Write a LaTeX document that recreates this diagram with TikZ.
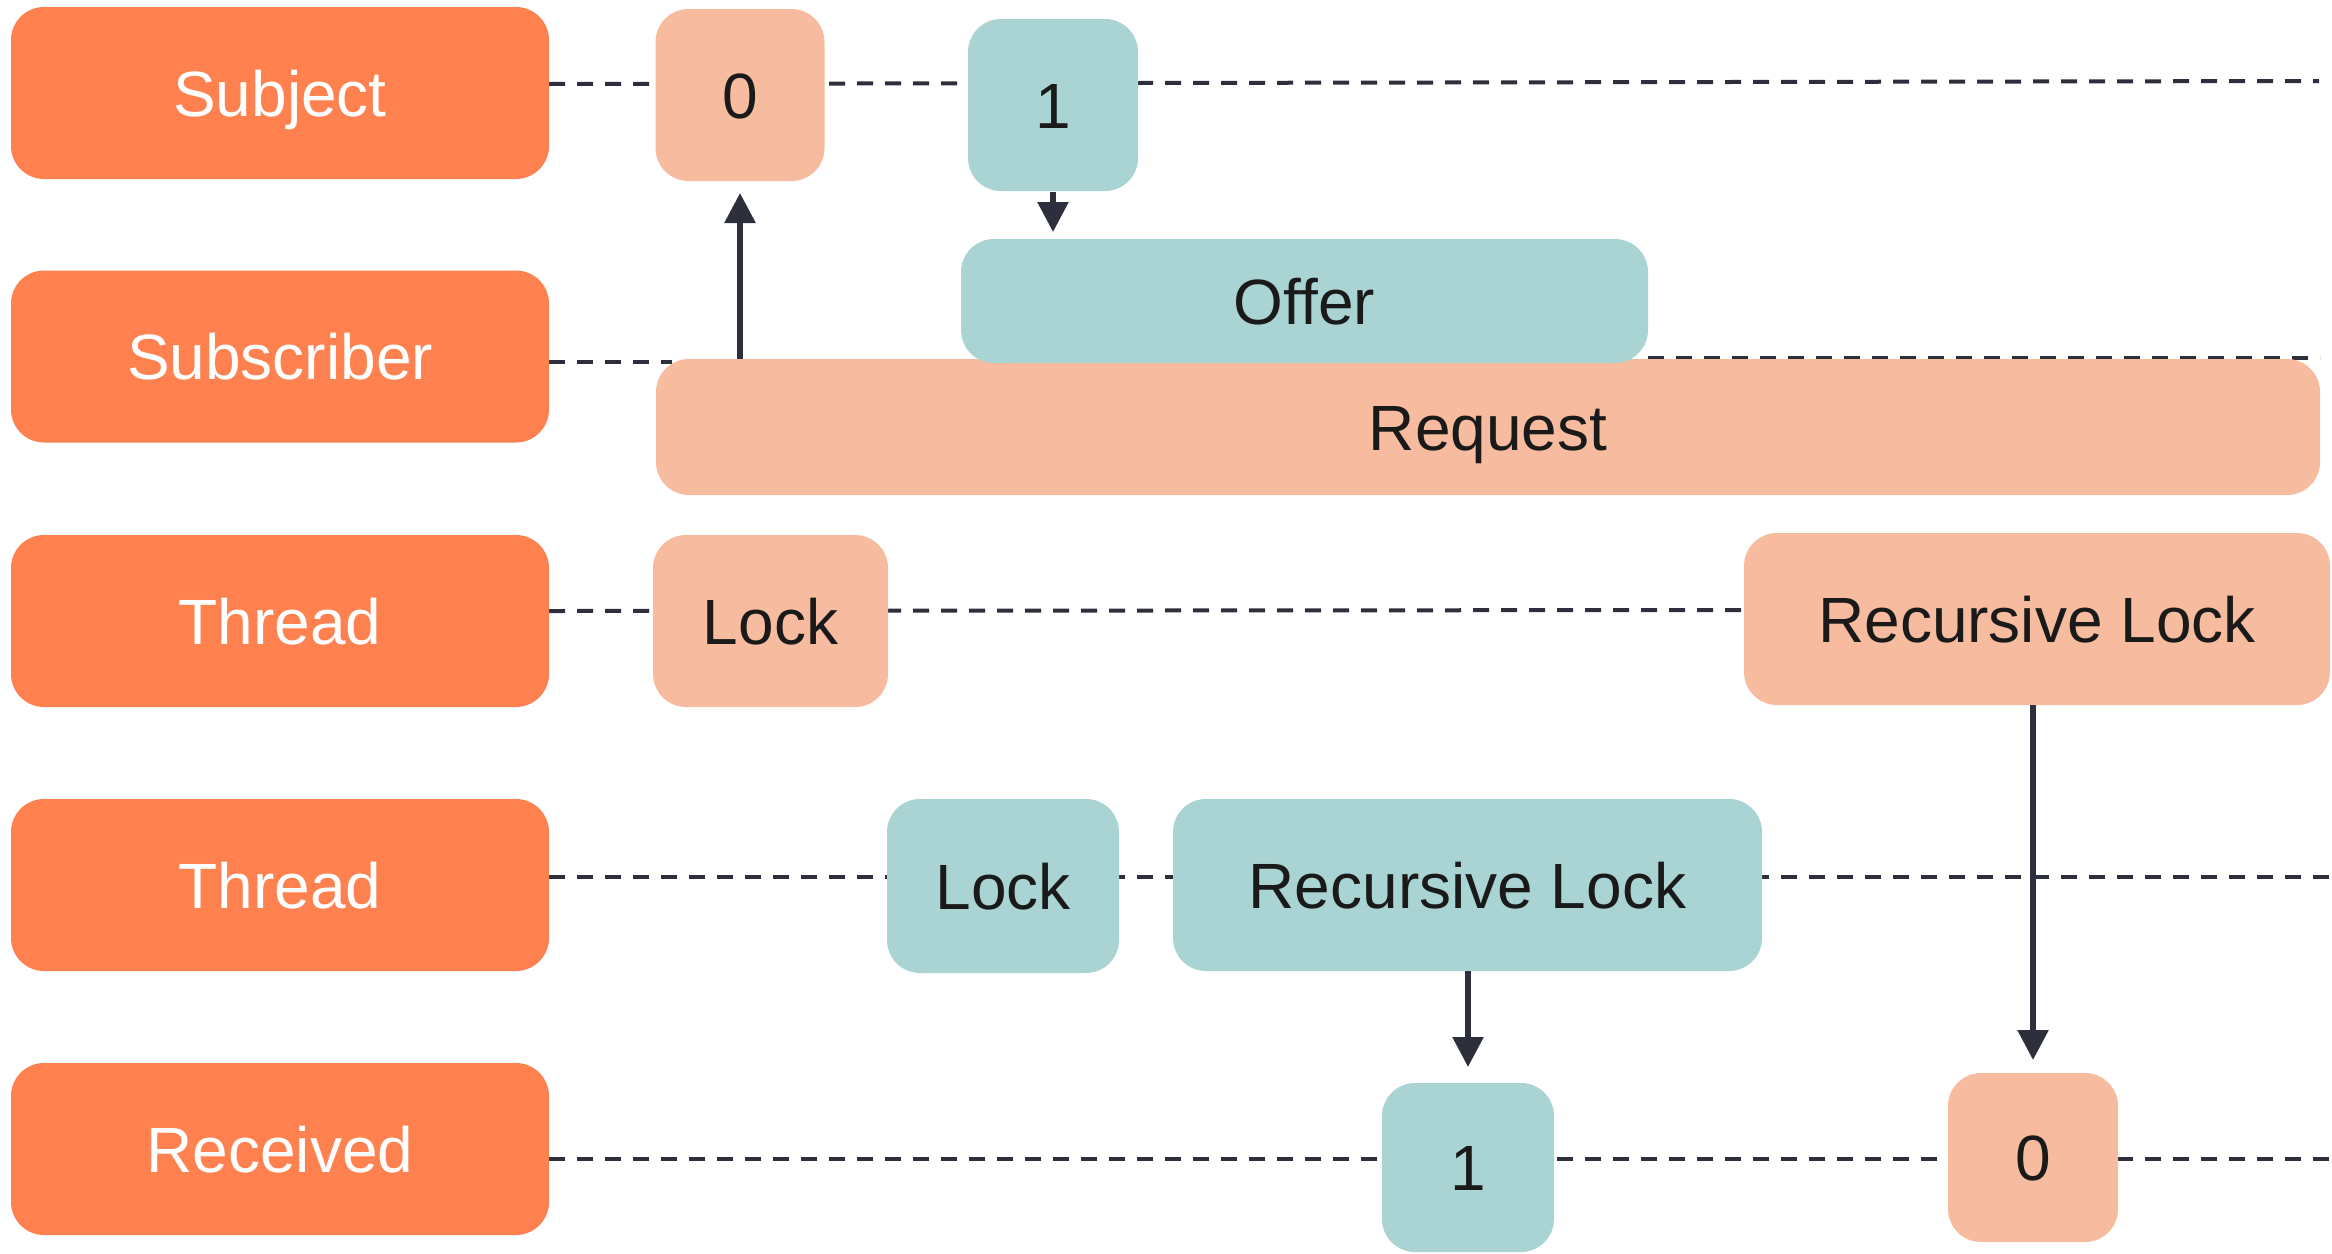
\documentclass[tikz,border=0pt]{standalone}
\usepackage{fontspec}
\setmainfont{Liberation Sans}
\usetikzlibrary{arrows.meta,backgrounds}

\definecolor{laneorange}{RGB}{255,129,79}
\definecolor{peach}{RGB}{247,188,160}
\definecolor{teal}{RGB}{170,212,211}
\definecolor{ink}{RGB}{46,47,60}
\definecolor{txt}{RGB}{26,26,26}

\begin{document}
\begin{tikzpicture}[x=0.5pt,y=-0.5pt,
  every node/.style={inner sep=0pt, outer sep=0pt,
    font=\fontsize{32}{38}\selectfont, text height=23pt, text depth=0pt},
  lanelabel/.style={fill=laneorange, text=white, rounded corners=16.5pt,
    minimum width=269pt, minimum height=86pt},
  peachbox/.style={fill=peach, text=txt, rounded corners=16.5pt},
  tealbox/.style={fill=teal, text=txt, rounded corners=16.5pt},
  lane/.style={draw=ink, line width=2pt, dash pattern=on 8pt off 6pt},
  flow/.style={draw=ink, line width=2.8pt,
    -{Triangle[length=15pt,width=15pt]}}]

\useasboundingbox (0,0) rectangle (2332,1253);

% lane labels
\node[lanelabel] (lblS)  at (280,93)    {Subject};
\node[lanelabel] (lblSb) at (280,356.5) {Subscriber};
\node[lanelabel] (lblT1) at (280,621)   {Thread};
\node[lanelabel] (lblT2) at (280,885)   {Thread};
\node[lanelabel] (lblR)  at (280,1149)  {Received};

% subject values
\node[peachbox, minimum width=84.5pt, minimum height=86pt] (s0) at (740,95) {0};
\node[tealbox,  minimum width=85pt,   minimum height=86pt] (s1) at (1053,105) {1};

% subscriber
\node[peachbox, minimum width=832pt, minimum height=68pt] (request) at (1488,427) {Request};
\node[tealbox,  minimum width=343.5pt, minimum height=62pt] (offer) at (1304.5,301) {Offer};

% first thread
\node[peachbox, minimum width=117.5pt, minimum height=86pt] (lockA) at (770.5,621) {Lock};
\node[peachbox, minimum width=293pt,   minimum height=86pt] (rlA) at (2037,619) {Recursive Lock};

% second thread
\node[tealbox, minimum width=116pt,   minimum height=87pt] (lockB) at (1003,886) {Lock};
\node[tealbox, minimum width=294.5pt, minimum height=86pt] (rlB) at (1467.5,885) {Recursive Lock};

% received values
\node[tealbox,  minimum width=86pt, minimum height=84.5pt] (r1) at (1468,1167.5) {1};
\node[peachbox, minimum width=85pt, minimum height=84.5pt] (r0) at (2033,1157.5) {0};

% lane ends
\coordinate (subjEnd)  at (2319,81);
\coordinate (subbLeft) at (672,362);
\coordinate (subbEnd)  at (2320,358);
\coordinate (thTwoEnd) at (2332,877);
\coordinate (recvEnd)  at (2332,1159);

\begin{pgfonlayer}{background}
  \draw[lane] ([yshift=4.5pt]lblS.east) -- (subjEnd);
  \draw[lane] ([yshift=-2.75pt]lblSb.east) -- (subbLeft);
  \draw[lane] ([yshift=2.5pt]offer.south east) -- (subbEnd);
  \draw[lane] ([yshift=5pt]lblT1.east) -- ([yshift=4.5pt]rlA.west);
  \draw[lane] ([yshift=4pt]lblT2.east) -- (thTwoEnd);
  \draw[lane] ([yshift=-5pt]lblR.east) -- (recvEnd);
\end{pgfonlayer}

% value flow
\draw[flow, shorten >=6pt] (s0.south |- request.north) -- (s0.south);
\draw[flow, shorten <=0.5pt, shorten >=3.5pt] (s1.south) -- (s1.south |- offer.north);
\draw[flow, shorten >=8pt] (rlB.south -| r1.north) -- (r1.north);
\draw[flow, shorten >=6.5pt] (rlA.south -| r0.north) -- (r0.north);

\end{tikzpicture}
\end{document}
